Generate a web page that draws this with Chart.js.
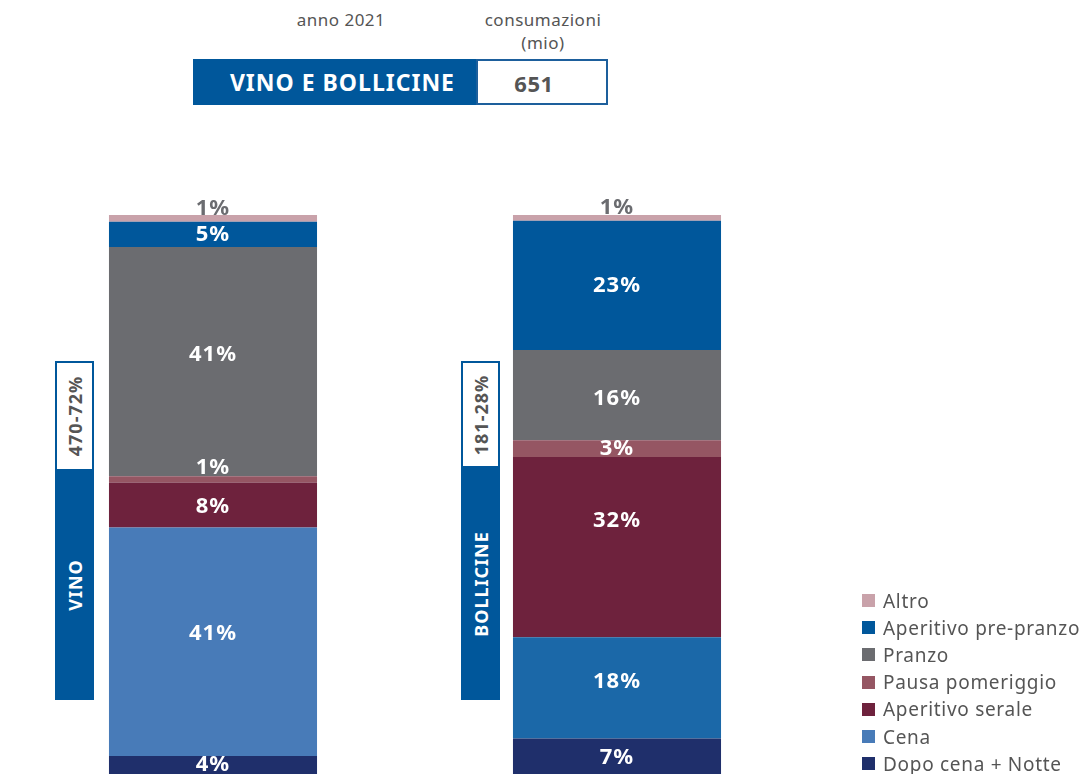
<!DOCTYPE html>
<html>
<head>
<meta charset="utf-8">
<script src="https://cdn.jsdelivr.net/npm/chart.js@4/dist/chart.umd.min.js"></script>
<style>
  html, body { margin: 0; padding: 0; background: #fff; overflow: hidden; }
  body { width: 1087px; height: 774px; position: relative; font-family: "Noto Sans", sans-serif; }
  #wrap { position: absolute; left: 0; top: 0; width: 1087px; height: 778px; }
  .hd { position: absolute; color: #555; font-size: 17px; letter-spacing: 0.5px; text-align: center; line-height: 23px; }
  .box { position: absolute; box-sizing: border-box; }
  .side { position: absolute; box-sizing: border-box; }
  .rot { position: absolute; left: 50%; top: 50%; transform: translate(-50%, -50%) rotate(-90deg);
         white-space: nowrap; font-weight: 700; font-size: 18px; letter-spacing: 1px; }
  #legend { position: absolute; left: 862px; top: 587px; }
  .li { height: 27.2px; display: flex; align-items: center; color: #555; font-size: 19px; letter-spacing: 0.7px; white-space: nowrap; }
  .sw { width: 13px; height: 13px; margin-right: 8px; flex: none; }
</style>
</head>
<body>
<div class="hd" style="left:270px; top:8px; width:142px;">anno 2021</div>
<div class="hd" style="left:472px; top:8px; width:142px;">consumazioni<br>(mio)</div>
<div class="box" style="left:193px; top:59px; width:284px; height:46px; background:#00579b;">
  <div style="position:absolute; right:22px; top:0; line-height:46px; color:#fff; font-weight:700; font-size:23px; letter-spacing:1px;">VINO E BOLLICINE</div>
</div>
<div class="box" style="left:476px; top:59px; width:132px; height:46px; border:2px solid #1d5f9c; background:#fff;">
  <div style="text-align:center; line-height:44px; color:#555; font-weight:700; font-size:22px; letter-spacing:0.5px; padding-right:16px;">651</div>
</div>

<div class="side" style="left:55px; top:361px; width:39px; height:110px; border:2px solid #00579b; background:#fff;">
  <div class="rot" style="color:#555;">470-72%</div>
</div>
<div class="side" style="left:55px; top:470px; width:39px; height:230px; background:#00579b;">
  <div class="rot" style="color:#fff;">VINO</div>
</div>
<div class="side" style="left:461px; top:361px; width:39px; height:107px; border:2px solid #00579b; background:#fff;">
  <div class="rot" style="color:#555;">181-28%</div>
</div>
<div class="side" style="left:461px; top:467px; width:39px; height:233px; background:#00579b;">
  <div class="rot" style="color:#fff;">BOLLICINE</div>
</div>

<div id="wrap"><canvas id="c" width="1087" height="778"></canvas></div>
<div id="legend"></div>

<script>
// categories (bars)
const categories = ["Vino", "Bollicine"];

// share of consumption by moment, % (bottom to top of stack)
const dopoCena = [3.9, 7];
const cena = [40.6, 18];
const aperitivoSerale = [8.0, 32];
const pausaPomeriggio = [1.1, 3];
const pranzo = [40.7, 16];
const aperitivoPrePranzo = [4.5, 23];
const altro = [1.2, 1];

const seriesNames = ["Dopo cena + Notte", "Cena", "Aperitivo serale", "Pausa pomeriggio", "Pranzo", "Aperitivo pre-pranzo", "Altro"];
const seriesValues = [dopoCena, cena, aperitivoSerale, pausaPomeriggio, pranzo, aperitivoPrePranzo, altro];
const seriesColors = [
    ["#1f2f6b", "#1f2f6b"],
    ["#487bb8", "#1b68a8"],
    ["#6e223d", "#6e223d"],
    ["#955663", "#955663"],
    ["#6b6c70", "#6b6c70"],
    ["#00579b", "#00579b"],
    ["#c9a2aa", "#c9a2aa"]
];
const labelColors = ["#fff", "#fff", "#fff", "#fff", "#fff", "#fff", "#6b6c70"];
// nudge of each label from the segment middle, px (as placed in the original)
const labelShift = [[-2, -1], [-8, -6], [2, -26], [-12, 0], [-7, 4], [0, 0], [-10, -10]];

const datasets = seriesNames.map((name, i) => ({
    label: name,
    data: seriesValues[i],
    backgroundColor: seriesColors[i],
    borderWidth: 0,
    barPercentage: 1,
    categoryPercentage: 0.515
}));

// draws the % labels inside each segment
const segmentLabels = {
    id: "segmentLabels",
    afterDatasetsDraw(chart) {
        const ctx = chart.ctx;
        ctx.save();
        ctx.font = "700 22px 'Noto Sans'";
        ctx.letterSpacing = "1px";
        ctx.textAlign = "center";
        ctx.textBaseline = "middle";
        chart.data.datasets.forEach((ds, i) => {
            const meta = chart.getDatasetMeta(i);
            meta.data.forEach((bar, j) => {
                const y = (bar.y + bar.base) / 2 + labelShift[i][j];
                ctx.fillStyle = labelColors[i];
                ctx.fillText(Math.round(ds.data[j]) + "%", bar.x, y);
            });
        });
        ctx.restore();
    }
};

const chart = new Chart(document.getElementById("c"), {
    type: "bar",
    data: { labels: categories, datasets: datasets },
    options: {
        responsive: false,
        animation: false,
        layout: { padding: { left: 11, right: 268, top: 215, bottom: 0 } },
        scales: {
            x: { stacked: true, display: false },
            y: { stacked: true, display: false, min: 0, max: 100 }
        },
        plugins: {
            legend: { display: false },
            tooltip: { enabled: false }
        }
    },
    plugins: [segmentLabels]
});

// legend, top to bottom as in the stack
const legend = document.getElementById("legend");
chart.data.datasets.slice().reverse().forEach(ds => {
    const row = document.createElement("div");
    row.className = "li";
    const sw = document.createElement("span");
    sw.className = "sw";
    sw.style.background = ds.backgroundColor[0];
    row.appendChild(sw);
    row.appendChild(document.createTextNode(ds.label));
    legend.appendChild(row);
});
</script>
</body>
</html>
